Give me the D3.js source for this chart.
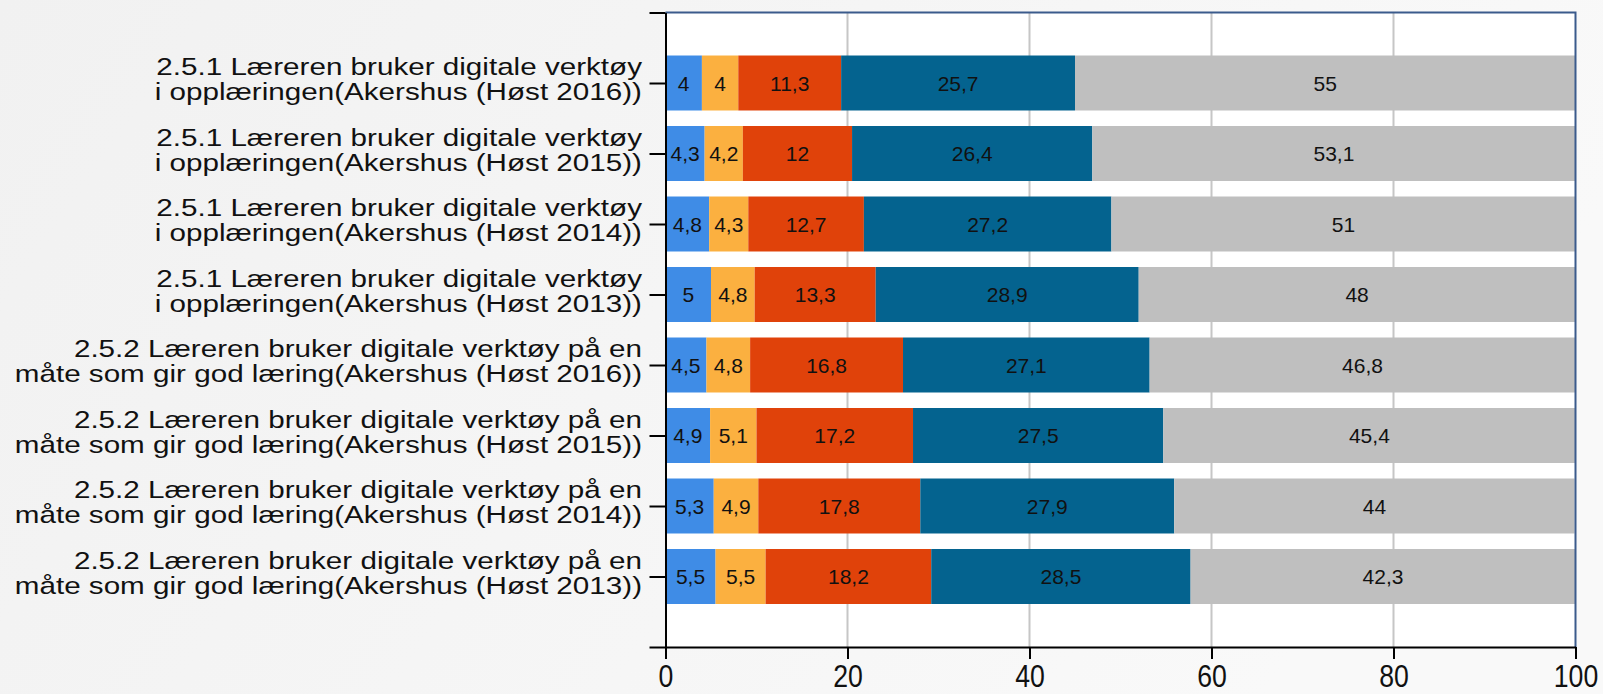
<!DOCTYPE html>
<html>
<head>
<meta charset="utf-8">
<script src="https://cdn.jsdelivr.net/npm/d3@7"></script>
<style>
  body { margin: 0; }
  svg { display: block; }
</style>
</head>
<body>
<svg width="1603" height="694"></svg>
<script>
const categories = [
    ["2.5.1 Læreren bruker digitale verktøy", "i opplæringen(Akershus (Høst 2016))"],
    ["2.5.1 Læreren bruker digitale verktøy", "i opplæringen(Akershus (Høst 2015))"],
    ["2.5.1 Læreren bruker digitale verktøy", "i opplæringen(Akershus (Høst 2014))"],
    ["2.5.1 Læreren bruker digitale verktøy", "i opplæringen(Akershus (Høst 2013))"],
    ["2.5.2 Læreren bruker digitale verktøy på en", "måte som gir god læring(Akershus (Høst 2016))"],
    ["2.5.2 Læreren bruker digitale verktøy på en", "måte som gir god læring(Akershus (Høst 2015))"],
    ["2.5.2 Læreren bruker digitale verktøy på en", "måte som gir god læring(Akershus (Høst 2014))"],
    ["2.5.2 Læreren bruker digitale verktøy på en", "måte som gir god læring(Akershus (Høst 2013))"]
];

// one array per answer category, one value per row (top to bottom)
const series1 = [4, 4.3, 4.8, 5, 4.5, 4.9, 5.3, 5.5];
const series2 = [4, 4.2, 4.3, 4.8, 4.8, 5.1, 4.9, 5.5];
const series3 = [11.3, 12, 12.7, 13.3, 16.8, 17.2, 17.8, 18.2];
const series4 = [25.7, 26.4, 27.2, 28.9, 27.1, 27.5, 27.9, 28.5];
const series5 = [55, 53.1, 51, 48, 46.8, 45.4, 44, 42.3];

const xTicks = [0, 20, 40, 60, 80, 100];

const colors = ["#3f8ce6", "#fbb040", "#e0420a", "#04638f", "#bfbfbf"];

function draw() {
    let svg = d3.select("svg"),
        width = +svg.attr("width"),
        height = +svg.attr("height");

    let left = 665.5, right = 1575.5, top = 12.5, bottom = 647;

    let x = d3.scaleLinear().domain([0, 100]).range([left, right]);
    let y = d3.scaleLinear().domain([0, categories.length + 1]).range([top, bottom]);
    let barH = (y(1) - y(0)) * 0.78;

    // background
    let grad = svg.append("defs").append("linearGradient")
        .attr("id", "bg").attr("x1", 0).attr("x2", 1).attr("y1", 0).attr("y2", 0.3);
    grad.append("stop").attr("offset", 0).attr("stop-color", "#f1f1f1");
    grad.append("stop").attr("offset", 1).attr("stop-color", "#f9f9f9");
    svg.append("rect").attr("width", width).attr("height", height).attr("fill", "url(#bg)");

    svg.append("rect")
        .attr("x", left).attr("y", top)
        .attr("width", right - left).attr("height", bottom - top)
        .attr("fill", "white");

    // grid
    svg.append("g")
        .selectAll("line")
        .data(xTicks.slice(1, -1))
        .join("line")
        .attr("x1", d => x(d)).attr("x2", d => x(d))
        .attr("y1", top).attr("y2", bottom)
        .attr("stroke", "#c6c6c6")
        .attr("stroke-width", 2);

    // stack the series
    let all = [series1, series2, series3, series4, series5];
    let rows = categories.map((c, i) => {
        let start = 0;
        return all.map((s, k) => {
            let seg = {row: i, k: k, v: s[i], x0: start, x1: Math.min(100, start + s[i])};
            start += s[i];
            return seg;
        });
    });
    let segs = rows.flat();

    svg.append("g")
        .selectAll("rect")
        .data(segs)
        .join("rect")
        .attr("x", d => x(d.x0))
        .attr("width", d => x(d.x1) - x(d.x0))
        .attr("y", d => y(d.row + 1) - barH / 2)
        .attr("height", barH)
        .attr("fill", d => colors[d.k]);

    svg.append("g")
        .selectAll("text")
        .data(segs)
        .join("text")
        .attr("x", d => x((d.x0 + d.x1) / 2))
        .attr("y", d => y(d.row + 1))
        .attr("dy", "0.36em")
        .attr("text-anchor", "middle")
        .attr("font-family", "Liberation Sans, Arial, sans-serif")
        .attr("font-size", 21)
        .attr("fill", "#111")
        .text(d => String(d.v).replace(".", ","));

    // frame: top and right in dark blue
    svg.append("path")
        .attr("d", `M${left},${top}H${right}V${bottom}`)
        .attr("fill", "none")
        .attr("stroke", "#3b5b8c")
        .attr("stroke-width", 2);

    // y axis
    let yAxis = d3.axisLeft(y)
        .tickValues(d3.range(0, categories.length + 2))
        .tickFormat("")
        .tickSize(16)
        .tickSizeOuter(0);
    let gy = svg.append("g")
        .attr("transform", `translate(${left},0)`)
        .call(yAxis);
    gy.selectAll("line, path").attr("stroke", "#000").attr("stroke-width", 2);

    // x axis
    let xAxis = d3.axisBottom(x)
        .tickValues(xTicks)
        .tickSize(12)
        .tickSizeOuter(0)
        .tickPadding(6);
    let gx = svg.append("g")
        .attr("transform", `translate(0,${bottom})`)
        .call(xAxis);
    gx.selectAll("line, path").attr("stroke", "#000").attr("stroke-width", 2);
    gx.selectAll("text")
        .attr("font-family", "Liberation Sans, Arial, sans-serif")
        .attr("font-size", 31)
        .attr("transform", "scale(0.86,1)")
        .attr("fill", "#111");

    // category labels
    let labels = svg.append("g")
        .selectAll("text")
        .data(categories)
        .join("text")
        .attr("text-anchor", "end")
        .attr("font-family", "Liberation Sans, Arial, sans-serif")
        .attr("font-size", 24)
        .attr("fill", "#111")
        .attr("transform", (d, i) => `translate(642,${y(i + 1)}) scale(1.235,1)`);
    labels.selectAll("tspan")
        .data(d => d)
        .join("tspan")
        .attr("x", 0)
        .attr("y", (d, j) => j === 0 ? -8 : 17)
        .text(d => d);
}

draw();
</script>
</body>
</html>
